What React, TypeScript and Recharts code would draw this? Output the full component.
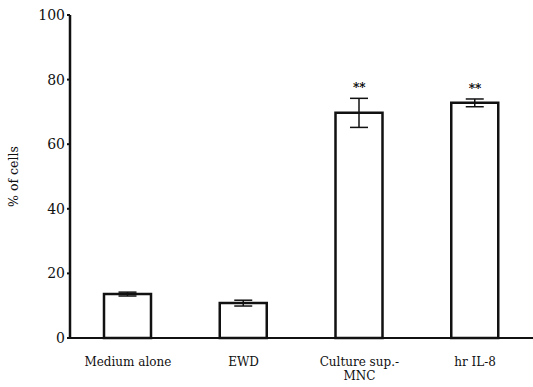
import { ComposedChart, Bar, XAxis, YAxis, ErrorBar, Scatter } from 'recharts'

const categories = ['Medium alone', 'EWD', 'Culture sup.-\nMNC', 'hr IL-8']
const percentCells = [13.6, 10.8, 69.7, 72.8]
const errors = [0.6, 0.9, 4.5, 1.2]
const significant = [false, false, true, true]
const yTicks = [0, 20, 40, 60, 80, 100]

const data = categories.map((name, i) => ({
  name,
  value: percentCells[i],
  err: errors[i],
  sig: significant[i] ? percentCells[i] + errors[i] : null,
}))

const font = '"DejaVu Serif", "Liberation Serif", serif'

function CategoryTick({ x, y, payload }: any) {
  const lines = String(payload.value).split('\n')
  return (
    <text x={x} y={y} textAnchor="middle" fontFamily={font} fontSize={12} fill="#111">
      {lines.map((line, i) => (
        <tspan key={i} x={x} dy={i === 0 ? 20 : 14}>
          {line}
        </tspan>
      ))}
    </text>
  )
}

function Stars({ cx, cy }: any) {
  if (cy == null || isNaN(cy)) return null
  return (
    <text x={cx} y={cy - 6} textAnchor="middle" fontFamily={font} fontSize={12} fontWeight="bold" fill="#000" stroke="none">
      **
    </text>
  )
}

export default function App() {
  return (
    <div style={{ position: 'absolute', left: 0, top: 0, background: '#fff' }}>
      <ComposedChart width={533} height={387} data={data} margin={{ top: 15, right: 0, bottom: 0, left: 0 }}>
        <XAxis
          dataKey="name"
          height={49}
          axisLine={{ stroke: '#111', strokeWidth: 2 }}
          tickLine={false}
          tick={<CategoryTick />}
          interval={0}
        />
        <YAxis
          width={70}
          domain={[0, 100]}
          ticks={yTicks}
          axisLine={{ stroke: '#111', strokeWidth: 2.5 }}
          tickLine={{ stroke: '#111', strokeWidth: 2 }}
          tickSize={3}
          tickMargin={2}
          tick={{ fill: '#111', fontSize: 14, fontFamily: font }}
          label={{
            value: '% of cells',
            angle: -90,
            position: 'insideLeft',
            offset: 14,
            style: { textAnchor: 'middle', fontFamily: font, fontSize: 12.5, fill: '#111' },
          }}
        />
        <Bar dataKey="value" barSize={47} fill="#fff" stroke="#111" strokeWidth={2.5} isAnimationActive={false}>
          <ErrorBar dataKey="err" width={9} stroke="#111" strokeWidth={1.5} />
        </Bar>
        <Scatter dataKey="sig" shape={<Stars />} isAnimationActive={false} />
      </ComposedChart>
    </div>
  )
}
